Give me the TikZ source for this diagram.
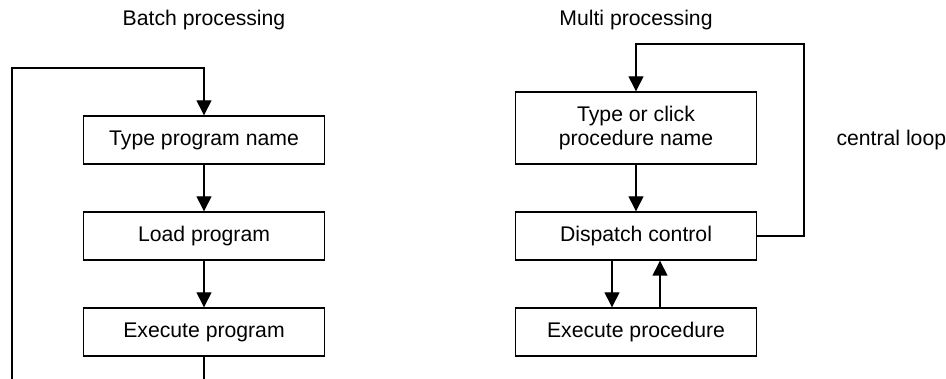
\documentclass[tikz,border=0pt]{standalone}
\usepackage{fontspec}
\setmainfont{Liberation Sans}
\usetikzlibrary{arrows.meta,positioning}

\begin{document}
\begin{tikzpicture}[x=1pt,y=-1pt,
    font=\fontsize{21.2}{23.7}\selectfont,
    box/.style={draw,line width=1.4pt,minimum width=241pt,minimum height=48pt,inner sep=0pt,align=center},
    flow/.style={line width=1.4pt,-{Triangle[width=15pt,length=15pt]}},
    wire/.style={line width=1.4pt}]
    \useasboundingbox (0,0) rectangle (946,379);

    % Batch processing
    \node[anchor=base] (bt) at (204,26) {Batch processing};
    \node[box] (tp) at (204,140) {Type program name};
    \node[box] (lp) at (204,236) {Load program};
    \node[box] (ep) at (204,332) {Execute program};
    \draw[flow] (tp) -- (lp);
    \draw[flow] (lp) -- (ep);

    % Loop back (runs off the bottom edge)
    \coordinate (eb) at (204,379);
    \coordinate (lb) at (12,379);
    \coordinate (lt) at (12,68);
    \draw[wire] (ep.south) -- (eb);
    \draw[flow] (lb) -- (lt) -| (tp.north);

    % Multi processing
    \node[anchor=base] (mt) at (636,26) {Multi processing};
    \node[box,minimum height=72pt] (tc) at (636,128) {Type or click\\procedure name};
    \node[box] (dc) at (636,236) {Dispatch control};
    \node[box] (xp) at (636,332) {Execute procedure};
    \draw[flow] (tc) -- (dc);
    \draw[flow] ([xshift=-24pt]dc.south) -- ([xshift=-24pt]xp.north);
    \draw[flow] ([xshift=24pt]xp.north) -- ([xshift=24pt]dc.south);

    % Central loop
    \coordinate (cr) at (804,44);
    \draw[flow] (dc.east) -| (cr) -| (tc.north);
    \node[anchor=base west] (cl) at (833,146) {central loop};
\end{tikzpicture}
\end{document}
